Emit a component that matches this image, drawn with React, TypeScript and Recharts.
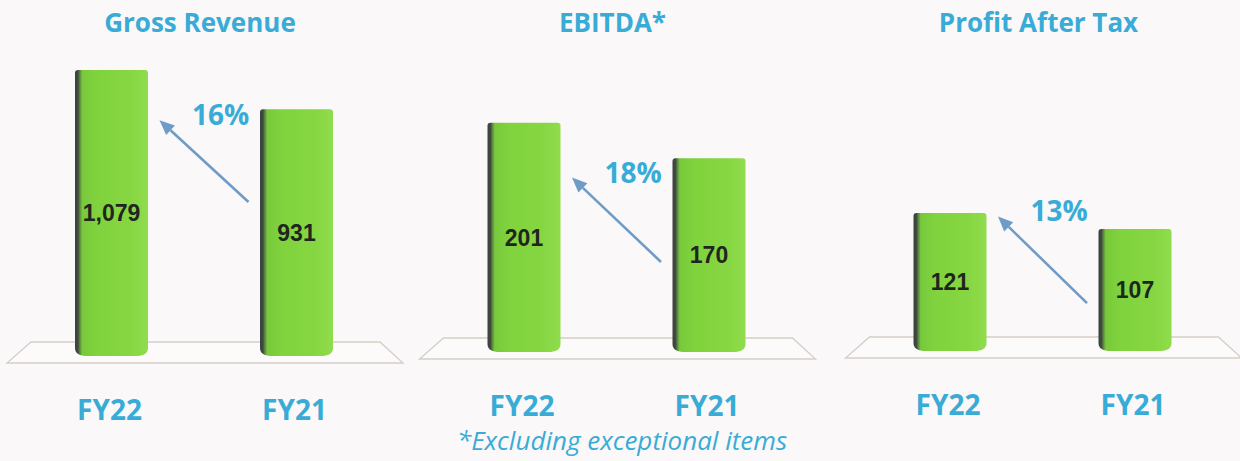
import React from 'react';
import { BarChart, Bar, XAxis, YAxis, LabelList, ReferenceLine } from 'recharts';

// ---------- data ----------
const years = ['FY22', 'FY21'];
const titles = ['Gross Revenue', 'EBITDA*', 'Profit After Tax'];
const grossRevenue = [1079, 931];
const ebitda = [201, 170];
const profitAfterTax = [121, 107];
const growthLabels = ['16%', '18%', '13%'];
// arrow annotation end points in data units: tail (at FY21) and head (at FY22)
const arrowTail = [581, 79, 42];
const arrowHead = [890, 153, 118];
const footnote = '*Excluding exceptional items';

// ---------- styling / layout ----------
const W = 1240;
const H = 461;
const BG = '#fbf8f9';
const BLUE = '#38acd6';
const ARROW = '#6f9cc6';
const FONT = '"Open Sans", "DejaVu Sans", sans-serif';
const X_AXIS_H = 60;

const panels = [
  { left: 0, width: 413, ml: 19, mr: 24, zero: 356, top: 38, domainMax: 1200, series: grossRevenue },
  { left: 413, width: 413, ml: 18.5, mr: 24.5, zero: 352, top: 67, domainMax: 250, series: ebitda },
  { left: 826, width: 414, ml: 31.5, mr: 12.5, zero: 351, top: 66, domainMax: 250, series: profitAfterTax },
];

const fmt = (v: any) => Number(v).toLocaleString('en-US');

const Cylinder = (gradId: string) => (props: any) => {
  const { x, y, width: w, height: h } = props;
  if (!w || !h) return null;
  const r = 3;
  const br = 8;
  const d = [
    `M ${x} ${y + r}`,
    `Q ${x} ${y} ${x + r} ${y}`,
    `L ${x + w - r} ${y}`,
    `Q ${x + w} ${y} ${x + w} ${y + r}`,
    `L ${x + w} ${y + h - br}`,
    `Q ${x + w} ${y + h} ${x + w - br * 1.6} ${y + h}`,
    `L ${x + br * 1.6} ${y + h}`,
    `Q ${x} ${y + h} ${x} ${y + h - br}`,
    'Z',
  ].join(' ');
  return <path d={d} fill={`url(#${gradId})`} />;
};

const arrowShape = (pct: string) => (p: any) => {
  const { x1, y1, x2, y2 } = p;
  if ([x1, y1, x2, y2].some((v) => typeof v !== 'number' || isNaN(v))) return null;
  const tx = x1 - 48;
  const ty = y1;
  const hx = x2 + 48;
  const hy = y2;
  const ang = Math.atan2(hy - ty, hx - tx);
  const L = 15;
  const hw = 6.5;
  const bx = hx - L * Math.cos(ang);
  const by = hy - L * Math.sin(ang);
  const px = -Math.sin(ang);
  const py = Math.cos(ang);
  const pts = `${hx},${hy} ${bx + hw * px},${by + hw * py} ${bx - hw * px},${by - hw * py}`;
  return (
    <g>
      <line x1={tx} y1={ty} x2={bx} y2={by} stroke={ARROW} strokeWidth={2.6} />
      <polygon points={pts} fill={ARROW} />
      <text
        x={hx + 61}
        y={hy + 5}
        textAnchor="middle"
        fill={BLUE}
        fontFamily={FONT}
        fontWeight={700}
        fontSize={28}
      >
        {pct}
      </text>
    </g>
  );
};

const FyTick = (props: any) => (
  <text
    x={props.x - 2}
    y={props.y + 64}
    textAnchor="middle"
    fill={BLUE}
    fontFamily={FONT}
    fontWeight={700}
    fontSize={28}
  >
    {props.payload.value}
  </text>
);

export default function App() {
  return (
    <div style={{ position: 'absolute', left: 0, top: 0, width: W, height: H, background: BG, overflow: 'hidden' }}>
      {/* floors, titles and footnote */}
      <svg width={W} height={H} style={{ position: 'absolute', left: 0, top: 0 }}>
        {panels.map((p, i) => {
          const PL = p.left + p.ml;
          const PR = p.left + p.width - p.mr;
          const yt = p.zero - 14;
          const yb = p.zero + 7;
          return (
            <g key={i}>
              <path
                d={`M ${PL + 12} ${yt} L ${PR - 9} ${yt} L ${PR + 14} ${yb} L ${PL - 12} ${yb} Z`}
                fill="#fcfafb"
                stroke="#d6cdc6"
                strokeWidth={1.3}
              />
              <text
                x={(PL + PR) / 2 - 4}
                y={32}
                textAnchor="middle"
                fill={BLUE}
                fontFamily={FONT}
                fontWeight={700}
                fontSize={26}
              >
                {titles[i]}
              </text>
            </g>
          );
        })}
        <text x={622} y={450} textAnchor="middle" fill={BLUE} fontFamily={FONT} fontStyle="italic" fontSize={26}>
          {footnote}
        </text>
      </svg>

      {panels.map((p, i) => {
        const data = years.map((yr, k) => ({ year: yr, value: p.series[k] }));
        const gradId = `cyl${i}`;
        return (
          <div key={i} style={{ position: 'absolute', left: p.left, top: 0 }}>
            <BarChart
              width={p.width}
              height={H}
              data={data}
              margin={{ top: p.top, right: p.mr, left: p.ml, bottom: H - p.zero - X_AXIS_H }}
              barSize={73}
            >
              <defs>
                <linearGradient id={gradId} x1="0" y1="0" x2="1" y2="0">
                  <stop offset="0%" stopColor="#3a423b" />
                  <stop offset="4%" stopColor="#3f4a3e" />
                  <stop offset="7%" stopColor="#5f8f3e" />
                  <stop offset="10%" stopColor="#78c93b" />
                  <stop offset="30%" stopColor="#80d33d" />
                  <stop offset="75%" stopColor="#86d642" />
                  <stop offset="100%" stopColor="#90dc4d" />
                </linearGradient>
              </defs>
              <XAxis
                dataKey="year"
                type="category"
                axisLine={false}
                tickLine={false}
                tickSize={0}
                tickMargin={0}
                height={X_AXIS_H}
                tick={<FyTick />}
                interval={0}
              />
              <YAxis hide domain={[0, p.domainMax]} />
              <Bar dataKey="value" isAnimationActive={false} shape={Cylinder(gradId)}>
                <LabelList
                  dataKey="value"
                  position="center"
                  formatter={fmt}
                  fill="#1f261f"
                  fontSize={23}
                  fontWeight={700}
                  fontFamily='"Liberation Sans", Arial, sans-serif'
                />
              </Bar>
              <ReferenceLine
                segment={[
                  { x: 'FY21', y: arrowTail[i] },
                  { x: 'FY22', y: arrowHead[i] },
                ]}
                ifOverflow="visible"
                shape={arrowShape(growthLabels[i])}
              />
            </BarChart>
          </div>
        );
      })}
    </div>
  );
}
